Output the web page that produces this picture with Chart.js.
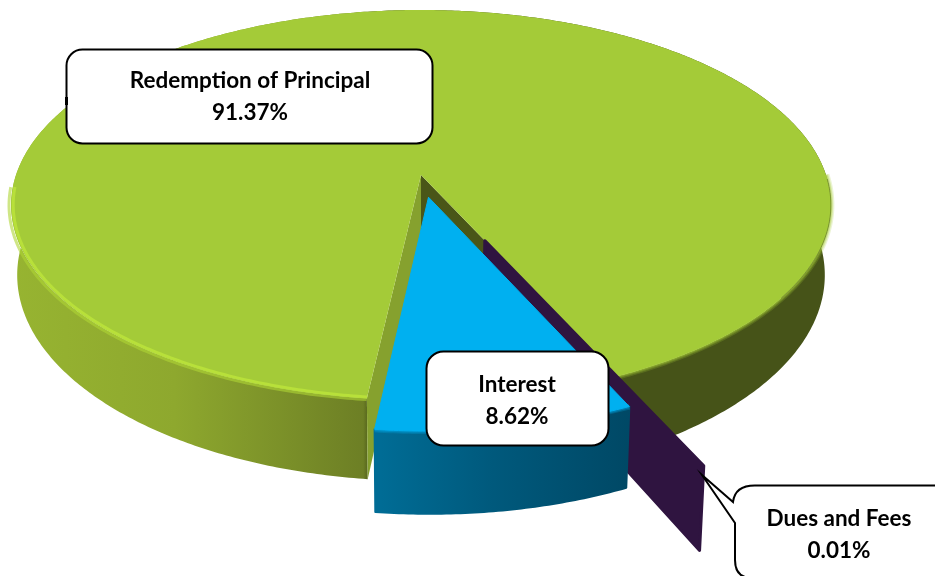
<!DOCTYPE html>
<html>
<head>
<meta charset="utf-8">
<style>html,body{margin:0;padding:0;background:#fff}canvas{display:block}</style>
<script src="https://cdn.jsdelivr.net/npm/chart.js@4"></script>
</head>
<body>
<canvas id="c" width="935" height="576"></canvas>
<script>
const categories = ['Redemption of Principal', 'Dues and Fees', 'Interest'];
const shares = [91.37, 0.01, 8.62];
const explode = [0, 36, 11.6];
const faceColors = ['#a4cb38', '#2f1440', '#00b0f0'];

const CX = 421, K = 0.1538;
const LEVELS = [{cy: 175, A: 190.4, B: 405}, {cy: 243.4, A: 201, B: 399}];
function project(u, v, level) {
  const L = LEVELS[level], w = 1 - K * v;
  return [CX + L.B * u / w, L.cy + L.A * v / w];
}
function rimPoints(arc, level, a0, a1, r) {
  const off = arc.options.offset / 100;
  const mid = (arc.startAngle + arc.endAngle) / 2;
  const ou = Math.cos(mid) * off, ov = Math.sin(mid) * off;
  const s = a0 === undefined ? arc.startAngle : a0;
  const e = a1 === undefined ? arc.endAngle : a1;
  const n = Math.max(1, Math.ceil(Math.abs(e - s) / 0.01));
  const pts = [];
  for (let i = 0; i <= n; i++) {
    const a = s + (e - s) * i / n;
    pts.push(project(ou + Math.cos(a) * (r || 1), ov + Math.sin(a) * (r || 1), level));
  }
  return pts;
}
function apex(arc, level) {
  const off = arc.options.offset / 100;
  const mid = (arc.startAngle + arc.endAngle) / 2;
  return project(Math.cos(mid) * off, Math.sin(mid) * off, level);
}
function trace(ctx, pts) {
  ctx.beginPath();
  pts.forEach((p, i) => i ? ctx.lineTo(p[0], p[1]) : ctx.moveTo(p[0], p[1]));
}
function fill(ctx, pts, color, round) {
  trace(ctx, pts); ctx.closePath();
  ctx.fillStyle = color; ctx.fill();
  if (round) { ctx.strokeStyle = color; ctx.lineWidth = round; ctx.lineJoin = 'round'; ctx.stroke(); }
}
function hGrad(ctx, x0, x1, stops) {
  const g = ctx.createLinearGradient(x0, 0, x1, 0);
  stops.forEach(s => g.addColorStop(s[0], s[1]));
  return g;
}
function stroke(ctx, pts, color, width) {
  trace(ctx, pts); ctx.strokeStyle = color; ctx.lineWidth = width; ctx.lineJoin = 'round'; ctx.lineCap = 'butt'; ctx.stroke();
}
function wall(arc, fillStyle, round, ctx) {
  const t = rimPoints(arc, 0), b = rimPoints(arc, 1).reverse();
  fill(ctx, t.concat(b), fillStyle, round);
}
function roundBox(ctx, x, y, w, h, r) {
  ctx.beginPath(); ctx.roundRect(x, y, w, h, r);
  ctx.fillStyle = '#fff'; ctx.fill();
  ctx.strokeStyle = '#000'; ctx.lineWidth = 2; ctx.stroke();
}
function texts(ctx, i, x, y1, y2) {
  ctx.fillStyle = '#000'; ctx.textAlign = 'center'; ctx.textBaseline = 'middle';
  ctx.font = 'bold 22.5px Lato';
  ctx.fillText(categories[i], x, y1);
  ctx.fillText(shares[i].toFixed(2) + '%', x, y2);
}

const pie3d = {
  id: 'pie3d',
  beforeDatasetsDraw(chart) {
    const ctx = chart.ctx, arcs = chart.getDatasetMeta(0).data;
    const [green, purple, blue] = arcs;
    ctx.save();

    // green slice: outer wall, cut walls, top
    wall(green, hGrad(ctx, 11, 830, [[0, '#97b431'], [0.2, '#8ea82e'], [0.43, '#6d7f25'], [0.44, '#465318'], [1, '#465318']]), 0, ctx);
    const gA0 = apex(green, 0), gA1 = apex(green, 1);
    const gS = rimPoints(green, 0, green.startAngle, green.startAngle)[0];
    const gSb = rimPoints(green, 1, green.startAngle, green.startAngle)[0];
    const gE = rimPoints(green, 0, green.endAngle, green.endAngle)[0];
    const gEb = rimPoints(green, 1, green.endAngle, green.endAngle)[0];
    fill(ctx, [gA0, gE, gEb, gA1], '#4a5618');
    fill(ctx, [gA0, gS, gSb, gA1], '#86a12e');
    // soft shoulder on the front rim
    const full = Math.PI * 2, rightSide = green.endAngle - full;
    const frontR = rimPoints(green, 0, green.endAngle, green.endAngle - 0.001 - (green.endAngle - full - 0));
    [[7, .22], [4.5, .3], [2.5, .4]].forEach(s =>
      stroke(ctx, frontR, 'rgba(164,203,56,' + s[1] + ')', s[0]));
    fill(ctx, rimPoints(green, 0).concat([gA0]), faceColors[0]);
    // bright bevel, left and front
    stroke(ctx, rimPoints(green, 0, green.startAngle, Math.PI * 0.98, 0.995), '#b8e03a', 3);
    stroke(ctx, rimPoints(green, 0, green.startAngle, Math.PI * 0.98, 1.005), 'rgba(175,214,54,.6)', 3);
    // thin dark edge, back right
    stroke(ctx, rimPoints(green, 0, full * 1.1, full + 0.02), 'rgba(90,105,40,.55)', 1);

    // purple slice
    const pA0 = apex(purple, 0), pA1 = apex(purple, 1);
    const pE = rimPoints(purple, 0, purple.startAngle, purple.startAngle)[0];
    const pEb = rimPoints(purple, 1, purple.startAngle, purple.startAngle)[0];
    fill(ctx, [pA0, pE, pEb, pA1], faceColors[1], 3);

    // blue slice
    wall(blue, hGrad(ctx, 381, 632, [[0, '#006c95'], [0.45, '#00597c'], [1, '#004865']]), 2, ctx);
    [[6, .25], [3.5, .35]].forEach(s =>
      stroke(ctx, rimPoints(blue, 0), 'rgba(0,176,240,' + s[1] + ')', s[0]));
    fill(ctx, rimPoints(blue, 0).concat([apex(blue, 0)]), faceColors[2], 1);

    // callouts
    roundBox(ctx, 66.5, 49.5, 366, 94, 16);
    ctx.fillStyle = '#000'; ctx.fillRect(65, 97, 3, 8);
    texts(ctx, 0, 250, 81, 113);

    roundBox(ctx, 426.5, 351.5, 182, 94, 17);
    texts(ctx, 2, 517, 385, 417);

    ctx.beginPath();
    ctx.moveTo(702, 475);
    ctx.lineTo(733, 502);
    ctx.quadraticCurveTo(735, 485, 756, 485.5);
    ctx.lineTo(960, 485.5);
    ctx.lineTo(960, 590);
    ctx.lineTo(752, 578);
    ctx.quadraticCurveTo(735, 578, 735, 560);
    ctx.lineTo(735, 523);
    ctx.closePath();
    ctx.fillStyle = '#fff'; ctx.fill();
    ctx.strokeStyle = '#000'; ctx.lineWidth = 2; ctx.lineJoin = 'miter'; ctx.stroke();
    texts(ctx, 1, 839, 519, 551);

    ctx.restore();
    return false;
  }
};

new Chart(document.getElementById('c'), {
  type: 'pie',
  data: {
    labels: categories,
    datasets: [{ data: shares, backgroundColor: faceColors, offset: explode, borderWidth: 0 }]
  },
  options: {
    responsive: false,
    animation: false,
    rotation: 186.5,
    plugins: { legend: { display: false }, tooltip: { enabled: false } }
  },
  plugins: [pie3d]
});
</script>
</body>
</html>
